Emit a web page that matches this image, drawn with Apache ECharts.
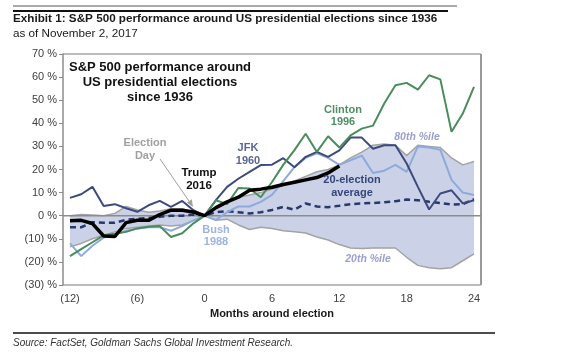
<!DOCTYPE html>
<html><head><meta charset="utf-8">
<script src="https://cdn.jsdelivr.net/npm/echarts@6/dist/echarts.min.js"></script>
<style>html,body{margin:0;padding:0;background:#fff}#c{width:576px;height:363px}</style>
</head><body><div id="c"></div>
<script>
const months = [-12,-11,-10,-9,-8,-7,-6,-5,-4,-3,-2,-1,0,1,2,3,4,5,6,7,8,9,10,11,12,13,14,15,16,17,18,19,20,21,22,23,24];
const jfk1960 = [7.7,9.3,12.5,4.2,5,3.2,1.7,4.5,6.4,3.8,6.4,2.4,0, 6.7,12.5,16,19,21.9,22.1,24.9,21,25.5,27.6,25.5,28.3,33.8,33.8,29,30.5,30.5,22.6,12.5,2.7,9.6,11,5.3,6.7];
const clinton1996 = [-17.5,-14.5,-11.5,-8.5,-7.8,-7,-5.5,-4.8,-4.5,-9.2,-7.6,-3.3,0, 6.7,5,12,11.8,8,14.6,22,28.4,35.5,27.6,34.4,29.5,34.8,37.7,39,48.6,56.5,57.5,54.6,60.8,59,36.3,44.2,55.8];
const bush1988 = [-12,-17.5,-13,-9.5,-8,-6.5,-5.5,-5,-5,-6.5,-4.5,-2,0, -1.8,1.5,4,4,6,9,15,21,25,27,25,22,24,26,18.5,19.5,22,19,30,29.5,28.5,15.5,10,9];
const trump2016 = [-2.2,-2,-3.4,-8.8,-9,-3,-2,-2,0.5,2.4,2.4,1.6,0, 3.5,6,8,11,11.5,12.3,13.5,14.5,15.5,16.5,18.5,21.5];
const avg20 = [-5,-5,-2.8,-3,-3,-1.8,-1.3,-1,-0.5,0,0,0.5,0, 1.5,2,1.5,1,1.5,2.5,3.8,2.6,5.3,4,3.7,4.3,5,5.3,5.5,5.8,6.3,7,6.7,6,5.5,4.8,5,7.2];
const pct80 = [0,0.5,0.3,0,1,4,2.5,1.5,2,3,3,1.5,0, 3,6,8,9,10,11.5,13,15,17,19,20,22,25,27.5,30.5,31,30.5,26,30.5,30,29.5,25,22,23.5];
const pct20 = [-13.5,-12,-10,-8.5,-7,-5.5,-5,-4.5,-4,-4.5,-4,-2,0, -2,-1.5,-4,-6,-5,-5.5,-6.5,-7,-7.5,-9.2,-10.5,-12.5,-14,-14.2,-14,-14,-14,-18,-21.5,-22.5,-23,-22.5,-19.5,-16.5];

const FF = '"Liberation Sans", Arial, sans-serif';
const bandDiff = pct80.map((v, i) => +(v - pct20[i]).toFixed(2));
const fmtX = v => { const n = Number(v); return n < 0 ? '(' + (-n) + ')' : String(n); };
const fmtY = v => v < 0 ? '(' + (-v) + ') %' : v + ' %';

const chart = echarts.init(document.getElementById('c'), null, {renderer: 'canvas'});

function txt(text, x, y, font, fill, align, lh) {
  return {type: 'text', x: x, y: y, z: 100,
    style: {text: text, font: font, fill: fill, align: align || 'center', verticalAlign: 'middle', lineHeight: lh || 13}};
}

const option = {
  animation: false,
  backgroundColor: '#fff',
  textStyle: {fontFamily: FF},
  grid: {left: 70, right: 102, top: 54, bottom: 78, containLabel: false},
  xAxis: {
    type: 'category', data: months.map(String), boundaryGap: false,
    axisLine: {show: false}, axisTick: {show: false}, splitLine: {show: false},
    axisLabel: {interval: 5, formatter: fmtX, color: '#404040', fontSize: 11, fontFamily: FF, margin: 8},
    name: 'Months around election', nameLocation: 'middle', nameGap: 23,
    nameTextStyle: {fontWeight: 'bold', fontSize: 11, color: '#1a1a1a', fontFamily: FF}
  },
  yAxis: {
    type: 'value', min: -30, max: 70, interval: 10, offset: 7,
    axisLine: {show: true, lineStyle: {color: '#8c8c8c', width: 1.5}},
    axisTick: {show: true, length: 4, lineStyle: {color: '#8c8c8c'}},
    splitLine: {show: false},
    axisLabel: {formatter: fmtY, color: '#404040', fontSize: 11, fontFamily: FF, margin: 6}
  },
  series: [
    {name: '20th %ile', type: 'line', data: pct20, stack: 'band', stackStrategy: 'all', symbol: 'none', z: 1,
      lineStyle: {color: '#a3a3a3', width: 1.5}},
    {name: '80th %ile', type: 'line', data: bandDiff, stack: 'band', stackStrategy: 'all', symbol: 'none', z: 1,
      lineStyle: {color: '#a3a3a3', width: 1.5}, areaStyle: {color: '#cbd2e7', opacity: 1}},
    {name: '20-election average', type: 'line', data: avg20, symbol: 'none', z: 3,
      lineStyle: {color: '#27396b', width: 2.5, type: [6, 4]}},
    {name: 'Bush 1988', type: 'line', data: bush1988, symbol: 'none', z: 4,
      lineStyle: {color: '#8eaadb', width: 2}},
    {name: 'JFK 1960', type: 'line', data: jfk1960, symbol: 'none', z: 5,
      lineStyle: {color: '#3d4a7e', width: 2}},
    {name: 'Clinton 1996', type: 'line', data: clinton1996, symbol: 'none', z: 6,
      lineStyle: {color: '#4a8c5c', width: 2}},
    {name: 'Trump 2016', type: 'line', data: trump2016, symbol: 'none', z: 7,
      lineStyle: {color: '#000000', width: 3.5}}
  ]
};
chart.setOption(option);

const y0 = chart.convertToPixel({yAxisIndex: 0}, 0);
const gFrame = chart.convertToPixel({yAxisIndex: 0}, 70);
const gBottom = chart.convertToPixel({yAxisIndex: 0}, -30);
const bold11 = 'bold 11px ' + FF;
chart.setOption({
  graphic: [
    {type: 'line', z: 0, shape: {x1: 63, y1: gFrame, x2: 481, y2: gFrame}, style: {stroke: '#a6a6a6', lineWidth: 1.5}},
    {type: 'line', z: 0, shape: {x1: 481, y1: gFrame, x2: 481, y2: gBottom}, style: {stroke: '#999', lineWidth: 2}},
    {type: 'line', z: 0, shape: {x1: 63, y1: gBottom, x2: 481, y2: gBottom}, style: {stroke: '#a6a6a6', lineWidth: 1.5}},
    {type: 'line', z: 2, shape: {x1: 63, y1: y0, x2: 481, y2: y0}, style: {stroke: '#8c8c8c', lineWidth: 1.5}},
    {type: 'line', shape: {x1: 13, y1: 6, x2: 457, y2: 6}, style: {stroke: '#555', lineWidth: 1}},
    {type: 'line', shape: {x1: 13, y1: 11, x2: 448, y2: 11}, style: {stroke: '#111', lineWidth: 2}},
    {type: 'line', shape: {x1: 13, y1: 333, x2: 495, y2: 333}, style: {stroke: '#111', lineWidth: 1.5}},
    txt('Exhibit 1: S&P 500 performance around US presidential elections since 1936', 13, 19, 'bold 11.7px ' + FF, '#1a1a1a', 'left'),
    txt('as of November 2, 2017', 13, 34, '11.7px ' + FF, '#1a1a1a', 'left'),
    txt('Source: FactSet, Goldman Sachs Global Investment Research.', 13, 343, 'italic 10px ' + FF, '#333', 'left'),
    txt('S&P 500 performance around\nUS presidential elections\nsince 1936', 160, 82.5, 'bold 13px ' + FF, '#111', 'center', 15.3),
    txt('Election\nDay', 145, 149.5, bold11, '#a0a0a0', 'center', 13.3),
    {type: 'line', z: 100, shape: {x1: 160, y1: 159, x2: 191, y2: 204}, style: {stroke: '#a0a0a0', lineWidth: 1}},
    {type: 'polygon', z: 100, shape: {points: [[193, 207], [191.8, 199.3], [186.8, 202.7]]}, style: {fill: '#a0a0a0'}},
    txt('JFK\n1960', 248, 154, bold11, '#5b6697', 'center', 13),
    txt('Trump\n2016', 199, 179.5, 'bold 11.5px ' + FF, '#111', 'center', 13),
    txt('Clinton\n1996', 343, 116, bold11, '#4f8f63', 'center', 12.5),
    txt('80th %ile', 417, 137, 'italic bold 10.5px ' + FF, '#9a9fd0', 'center'),
    txt('20-election\naverage', 352, 186.5, bold11, '#34467a', 'center', 13.3),
    txt('Bush\n1988', 216, 236, bold11, '#9db3e0', 'center', 12),
    txt('20th %ile', 368, 259.5, 'italic bold 10.5px ' + FF, '#9a9fd0', 'center')
  ]
});
</script>
</body></html>
